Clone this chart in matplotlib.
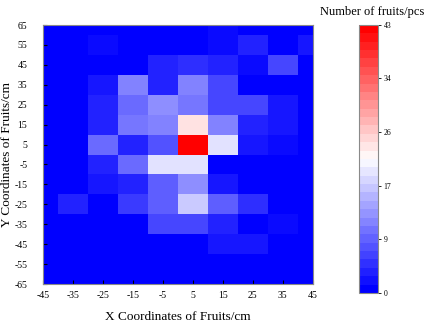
import numpy as np
import matplotlib
matplotlib.use("Agg")
import matplotlib.pyplot as plt
from matplotlib.colors import ListedColormap, Normalize
from matplotlib.cm import ScalarMappable

plt.rcParams['font.family'] = ['Liberation Serif', 'DejaVu Serif']
plt.rcParams['axes.unicode_minus'] = False

x_centers = [-45, -35, -25, -15, -5, 5, 15, 25, 35, 45]
y_centers = [65, 55, 45, 35, 25, 15, 5, -5, -15, -25, -35, -45, -55, -65]

row_y65 = [0, 0, 0, 0, 0, 0, 1, 0, 0, 0]
row_y55 = [0, 0, 1, 0, 0, 0, 1, 3, 0, 2]
row_y45 = [0, 0, 0, 0, 3, 4, 3, 1, 6, 0]
row_y35 = [0, 0, 2, 11, 3, 11, 6, 0, 0, 0]
row_y25 = [0, 0, 3, 9, 12, 10, 6, 6, 2, 0]
row_y15 = [0, 0, 3, 10, 11, 24, 11, 3, 2, 0]
row_y5 = [0, 0, 9, 3, 7, 43, 19, 2, 1, 0]
row_ym5 = [0, 0, 3, 9, 19, 19, 0, 0, 0, 0]
row_ym15 = [0, 0, 2, 3, 8, 12, 2, 0, 0, 0]
row_ym25 = [0, 3, 0, 5, 8, 17, 8, 4, 0, 0]
row_ym35 = [0, 0, 0, 0, 6, 6, 3, 0, 1, 0]
row_ym45 = [0, 0, 0, 0, 0, 0, 2, 2, 0, 0]
row_ym55 = [0, 0, 0, 0, 0, 0, 0, 0, 0, 0]
row_ym65 = [0, 0, 0, 0, 0, 0, 0, 0, 0, 0]

counts = np.array([row_y65, row_y55, row_y45, row_y35, row_y25, row_y15, row_y5,
                   row_ym5, row_ym15, row_ym25, row_ym35, row_ym45, row_ym55, row_ym65])

x_ticks = [-45, -35, -25, -15, -5, 5, 15, 25, 35, 45]
y_ticks = [65, 55, 45, 35, 25, 15, 5, -5, -15, -25, -35, -45, -55, -65]
cbar_ticks = [0, 8.6, 17.2, 25.8, 34.4, 43]
cbar_labels = ['0', '9', '17', '26', '34', '43']

xc = np.array(x_centers, dtype=float)
yc = np.array(y_centers, dtype=float)
x_edges = np.concatenate([[xc[0] - 5], (xc[:-1] + xc[1:]) / 2, [xc[-1] + 5]])
y_edges = np.concatenate([[yc[0] + 5], (yc[:-1] + yc[1:]) / 2, [yc[-1] - 5]])

base = plt.get_cmap('bwr')
cmap_bar = ListedColormap(base(np.linspace(0, 1, 32)))
norm = Normalize(vmin=0, vmax=43)

fig = plt.figure(figsize=(4.28, 3.25), dpi=100)
ax = fig.add_axes([0.0998, 0.126, 0.631, 0.797])
mesh = ax.pcolormesh(x_edges, y_edges, counts, cmap=base, norm=norm, shading='flat')
ax.set_xlim(-45, 45)
ax.set_ylim(-65, 65)
ax.set_xticks(x_ticks)
ax.set_yticks(y_ticks)
ax.set_xticklabels([str(v) for v in x_ticks])
ax.set_yticklabels([str(v) for v in y_ticks])
ax.tick_params(direction='in', length=3, width=0.8, labelsize=7, colors='black')
ax.tick_params(axis='x', pad=5)
ax.tick_params(axis='y', pad=11)
for s in ax.spines.values():
    s.set_color('#8a8a8a')
    s.set_linewidth(0.8)
ax.set_xlabel('X Coordinates of Fruits/cm', fontsize=9.5, labelpad=8)
ax.set_ylabel('Y Coordinates of Fruits/cm', fontsize=9.5, labelpad=1)

cax = fig.add_axes([0.839, 0.0985, 0.044, 0.825])
cb = fig.colorbar(ScalarMappable(norm=norm, cmap=cmap_bar), cax=cax)
cb.set_ticks(cbar_ticks)
cb.set_ticklabels(cbar_labels)
cb.ax.tick_params(direction='out', length=2, width=0.6, labelsize=5.5, pad=2)
cb.outline.set_edgecolor('#8a8a8a')
cb.outline.set_linewidth(0.8)

fig.text(372 / 428, 1 - 12 / 325, 'Number of fruits/pcs', ha='center', va='center', fontsize=9)

fig.savefig('out.png', dpi=100)
